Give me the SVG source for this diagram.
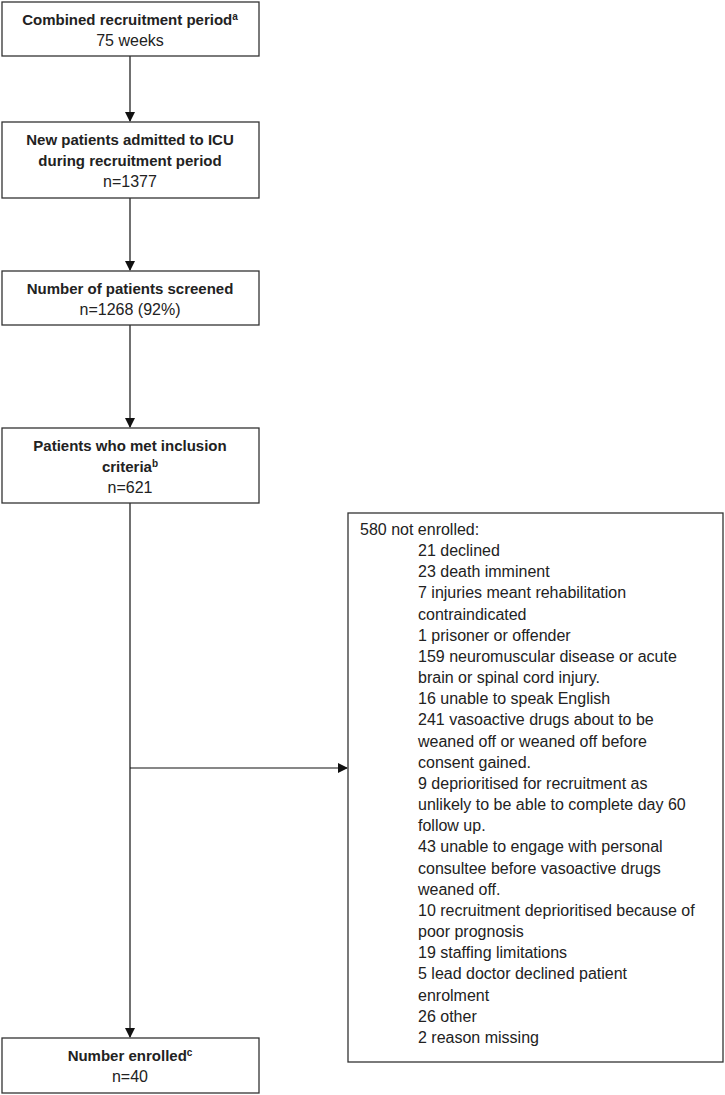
<svg xmlns="http://www.w3.org/2000/svg" width="725" height="1095" viewBox="0 0 725 1095">
<style>
.box{fill:#fff;stroke:#333;stroke-width:1.3}
.t{font-family:"Liberation Sans",Arial,sans-serif;font-size:16px;fill:#222}
.b{font-weight:bold;font-size:15px}
.c{text-anchor:middle}
.sup{font-size:10px}
.ln{stroke:#111;stroke-width:1.2;fill:none}
</style>
<defs>
<marker id="ah" markerWidth="10" markerHeight="10" refX="9" refY="5" orient="auto" markerUnits="userSpaceOnUse">
<path d="M0,0 L10,5 L0,10 z" fill="#111"/>
</marker>
</defs>
<rect width="725" height="1095" fill="#fff"/>
<g id="connectors">
<line class="ln" x1="130" y1="56" x2="130" y2="121" marker-end="url(#ah)"/>
<line class="ln" x1="130" y1="198" x2="130" y2="270" marker-end="url(#ah)"/>
<line class="ln" x1="130" y1="325" x2="130" y2="427" marker-end="url(#ah)"/>
<line class="ln" x1="130" y1="503" x2="130" y2="1037" marker-end="url(#ah)"/>
<line class="ln" x1="130" y1="768" x2="347" y2="768" marker-end="url(#ah)"/>
</g>
<g id="n1">
<rect class="box" x="2" y="2" width="257" height="54"/>
<text class="t b c" x="130" y="25">Combined recruitment period<tspan class="sup" dy="-5">a</tspan></text>
<text class="t c" x="130" y="46">75 weeks</text>
</g>
<g id="n2">
<rect class="box" x="2" y="122" width="257" height="76"/>
<text class="t b c" x="130" y="145">New patients admitted to ICU</text>
<text class="t b c" x="130" y="166">during recruitment period</text>
<text class="t c" x="130" y="187">n=1377</text>
</g>
<g id="n3">
<rect class="box" x="2" y="271" width="257" height="54"/>
<text class="t b c" x="130" y="294">Number of patients screened</text>
<text class="t c" x="130" y="315">n=1268 (92%)</text>
</g>
<g id="n4">
<rect class="box" x="2" y="428" width="257" height="75"/>
<text class="t b c" x="130" y="451">Patients who met inclusion</text>
<text class="t b c" x="130" y="472">criteria<tspan class="sup" dy="-5">b</tspan></text>
<text class="t c" x="130" y="493">n=621</text>
</g>
<g id="n5">
<rect class="box" x="348" y="513" width="375" height="549"/>
<text class="t" x="360" y="535">580 not enrolled:</text>
<g class="t">
<text x="418" y="556">21 declined</text>
<text x="418" y="577">23 death imminent</text>
<text x="418" y="598">7 injuries meant rehabilitation</text>
<text x="418" y="620">contraindicated</text>
<text x="418" y="641">1 prisoner or offender</text>
<text x="418" y="662">159 neuromuscular disease or acute</text>
<text x="418" y="683">brain or spinal cord injury.</text>
<text x="418" y="704">16 unable to speak English</text>
<text x="418" y="725">241 vasoactive drugs about to be</text>
<text x="418" y="747">weaned off or weaned off before</text>
<text x="418" y="768">consent gained.</text>
<text x="418" y="789">9 deprioritised for recruitment as</text>
<text x="418" y="810">unlikely to be able to complete day 60</text>
<text x="418" y="831">follow up.</text>
<text x="418" y="852">43 unable to engage with personal</text>
<text x="418" y="874">consultee before vasoactive drugs</text>
<text x="418" y="895">weaned off.</text>
<text x="418" y="916">10 recruitment deprioritised because of</text>
<text x="418" y="937">poor prognosis</text>
<text x="418" y="958">19 staffing limitations</text>
<text x="418" y="979">5 lead doctor declined patient</text>
<text x="418" y="1001">enrolment</text>
<text x="418" y="1022">26 other</text>
<text x="418" y="1043">2 reason missing</text>
</g>
</g>
<g id="n6">
<rect class="box" x="2" y="1038" width="257" height="55"/>
<text class="t b c" x="130" y="1061">Number enrolled<tspan class="sup" dy="-5">c</tspan></text>
<text class="t c" x="130" y="1082">n=40</text>
</g>
</svg>
